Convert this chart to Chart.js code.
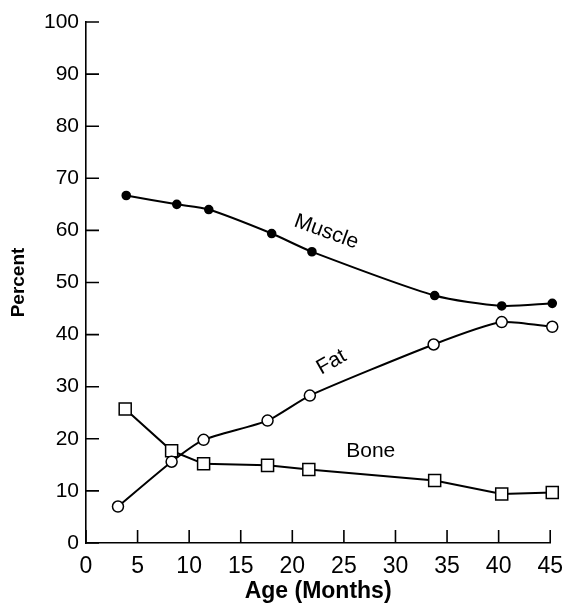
<!DOCTYPE html>
<html lang="en">
<head>
  <meta charset="UTF-8">
  <title>Body composition by age</title>
  <script src="https://cdn.jsdelivr.net/npm/chart.js"></script>
  <style>
    html, body { margin: 0; padding: 0; background: #fff; }
    #wrap { width: 573px; height: 611px; }
  </style>
</head>
<body>
  <div id="wrap"><canvas id="compChart"></canvas></div>

  <script>
    // values (age in months, percent)
    const muscleAge = [3.9, 8.8, 11.9, 18.0, 21.9, 33.8, 40.3, 45.2];
    const musclePct = [66.7, 65.0, 64.0, 59.4, 55.9, 47.5, 45.5, 46.0];
    const fatAge = [3.1, 8.3, 11.4, 17.6, 21.7, 33.7, 40.3, 45.2];
    const fatPct = [7.0, 15.6, 19.8, 23.5, 28.3, 38.1, 42.4, 41.5];
    const boneAge = [3.8, 8.3, 11.4, 17.6, 21.6, 33.8, 40.3, 45.2];
    const bonePct = [25.7, 17.7, 15.2, 14.9, 14.1, 12.0, 9.4, 9.7];

    // curve labels: text, x, y (data units), rotation in degrees
    const labelText = ['Muscle', 'Fat', 'Bone'];
    const labelX = [23.3, 23.8, 27.6];
    const labelY = [59.7, 34.7, 17.7];
    const labelRot = [20, -30, 0];

    const FONT = '"Liberation Sans", Arial, Helvetica, sans-serif';

    const pts = (xs, ys) => xs.map((x, i) => ({ x, y: ys[i] }));

    // short tick marks pointing into the plot
    const innerTicks = {
      id: 'innerTicks',
      afterDraw(chart) {
        const { ctx, chartArea, scales } = chart;
        ctx.save();
        ctx.strokeStyle = '#000';
        ctx.lineWidth = 1.6;
        ctx.beginPath();
        scales.y.ticks.forEach(t => {
          const py = scales.y.getPixelForValue(t.value);
          ctx.moveTo(chartArea.left, py);
          ctx.lineTo(chartArea.left + 13, py);
        });
        scales.x.ticks.forEach(t => {
          const px = scales.x.getPixelForValue(t.value);
          ctx.moveTo(px, chartArea.bottom);
          ctx.lineTo(px, chartArea.bottom - 13);
        });
        ctx.stroke();
        ctx.restore();
      }
    };

    const curveLabels = {
      id: 'curveLabels',
      afterDatasetsDraw(chart) {
        const { ctx, scales } = chart;
        ctx.save();
        ctx.fillStyle = '#000';
        ctx.font = '21px ' + FONT;
        ctx.textAlign = 'center';
        ctx.textBaseline = 'middle';
        labelText.forEach((txt, i) => {
          ctx.save();
          ctx.translate(scales.x.getPixelForValue(labelX[i]), scales.y.getPixelForValue(labelY[i]));
          ctx.rotate(labelRot[i] * Math.PI / 180);
          ctx.fillText(txt, 0, 0);
          ctx.restore();
        });
        ctx.restore();
      }
    };

    new Chart(document.getElementById('compChart'), {
      type: 'line',
      data: {
        datasets: [
          {
            label: 'Muscle',
            data: pts(muscleAge, musclePct),
            borderColor: '#000',
            borderWidth: 2,
            backgroundColor: '#000',
            pointBackgroundColor: '#000',
            pointBorderColor: '#000',
            pointRadius: 3.8,
            tension: 0.25,
            clip: false
          },
          {
            label: 'Fat',
            data: pts(fatAge, fatPct),
            borderColor: '#000',
            borderWidth: 2,
            pointBackgroundColor: '#fff',
            pointBorderColor: '#000',
            pointBorderWidth: 1.5,
            pointRadius: 5.5,
            tension: 0.2,
            clip: false
          },
          {
            label: 'Bone',
            data: pts(boneAge, bonePct),
            borderColor: '#000',
            borderWidth: 2,
            pointStyle: 'rect',
            pointBackgroundColor: '#fff',
            pointBorderColor: '#000',
            pointBorderWidth: 1.5,
            pointRadius: 8.5,
            tension: 0,
            clip: false
          }
        ]
      },
      options: {
        responsive: true,
        maintainAspectRatio: false,
        animation: false,
        layout: { padding: { left: 0, right: 15, top: 22, bottom: 0 } },
        plugins: {
          legend: { display: false },
          tooltip: { enabled: false }
        },
        scales: {
          x: {
            type: 'linear',
            min: 0,
            max: 45,
            grid: { display: true, drawOnChartArea: false, drawTicks: false },
            border: { display: true, color: '#000', width: 1.6 },
            ticks: { stepSize: 5, color: '#000', padding: 10, font: { family: FONT, size: 23 } },
            title: {
              display: true,
              text: 'Age (Months)',
              color: '#000',
              padding: { top: 0, bottom: 6 },
              font: { family: FONT, size: 23, weight: 'bold' }
            },
            afterFit(scale) { scale.height = 68; }
          },
          y: {
            min: 0,
            max: 100,
            grid: { display: true, drawOnChartArea: false, drawTicks: false },
            border: { display: true, color: '#000', width: 1.6 },
            ticks: { stepSize: 10, color: '#000', padding: 7, font: { family: FONT, size: 21 } },
            title: {
              display: true,
              text: 'Percent',
              color: '#000',
              padding: { top: 7, bottom: 0 },
              font: { family: FONT, size: 19, weight: 'bold' }
            },
            afterFit(scale) { scale.width = 86; }
          }
        }
      },
      plugins: [innerTicks, curveLabels]
    });
  </script>
</body>
</html>
